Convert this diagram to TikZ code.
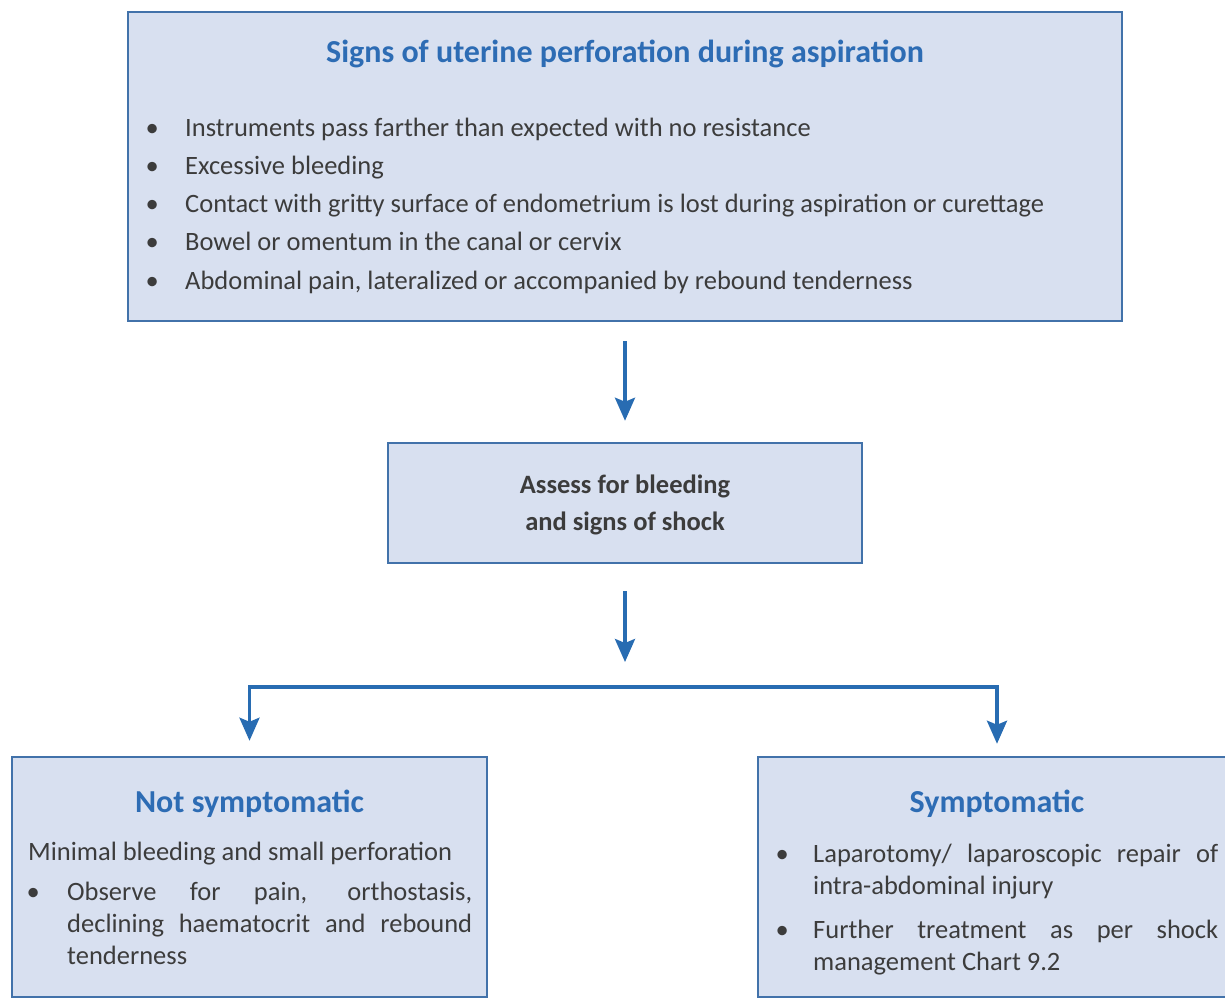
\documentclass[tikz,border=0pt]{standalone}
\usepackage{fontspec}
\setmainfont{Carlito}
\usetikzlibrary{arrows.meta}

\definecolor{boxfill}{RGB}{216,224,240}
\definecolor{boxline}{RGB}{66,114,170}
\definecolor{flowblue}{RGB}{40,108,178}
\definecolor{headblue}{RGB}{45,108,180}
\definecolor{bodygray}{RGB}{60,60,60}

\newlength{\bulind}
\newcommand{\bitem}[2]{\par\hangindent=\bulind\hangafter=0\noindent\llap{\makebox[#1][c]{\textbullet}}#2}

\begin{document}
\begin{tikzpicture}[x=1pt, y=-1pt,
    box/.style={draw=boxline, line width=2.5pt, fill=boxfill, inner sep=0pt},
    heading/.style={font=\fontsize{32}{38}\selectfont\bfseries, text=headblue,
        anchor=base, inner sep=0pt},
    body/.style={font=\fontsize{26.5}{32}\selectfont, text=bodygray,
        anchor=base west, inner sep=0pt},
    flow/.style={draw=flowblue, line width=3.5pt,
        -{Stealth[length=23pt, width=20pt, inset=4pt]}}
]
    \clip (0,0) rectangle (1225,999);
    \fill[white] (0,0) rectangle (1225,999);

    \node[box, minimum width=994pt, minimum height=309pt] (signs) at (625,166.5) {};
    \node[heading] (signstitle) at (625,62) {Signs of uterine perforation during aspiration};
    \node[body] (signslist) at (140,136) {\begin{minipage}[t]{960pt}
        \fontsize{26.5}{38.3}\selectfont\setlength{\bulind}{45pt}
        \bitem{66pt}{Instruments pass farther than expected with no resistance}
        \bitem{66pt}{Excessive bleeding}
        \bitem{66pt}{Contact with gritty surface of endometrium is lost during aspiration or curettage}
        \bitem{66pt}{Bowel or omentum in the canal or cervix}
        \bitem{66pt}{Abdominal pain, lateralized or accompanied by rebound tenderness}
    \end{minipage}};

    \node[box, minimum width=474pt, minimum height=120pt] (assess) at (625,503) {};
    \node[body, anchor=base, align=center, font=\fontsize{26.5}{37}\selectfont\bfseries]
        (assesstext) at (625,530) {Assess for bleeding\\and signs of shock};

    \node[box, minimum width=475pt, minimum height=240pt] (nosym) at (249.5,877) {};
    \node[heading] (nosymtitle) at (249.5,812) {Not symptomatic};
    \node[body] (nosymtext) at (28,860) {\begin{minipage}[t]{444pt}
        \setlength{\bulind}{39pt}
        \noindent Minimal bleeding and small perforation\par\vspace{8pt}
        \bitem{68pt}{Observe for pain, orthostasis,\linebreak declining haematocrit and rebound\linebreak tenderness}
    \end{minipage}};

    \node[box, minimum width=478pt, minimum height=240pt] (sym) at (997,877) {};
    \node[heading] (symtitle) at (997,812) {Symptomatic};
    \node[body] (symtext) at (775,862) {\begin{minipage}[t]{443pt}
        \setlength{\bulind}{38pt}
        \bitem{62pt}{Laparotomy/ laparoscopic repair of\linebreak intra-abdominal injury}\par\vspace{12pt}
        \bitem{62pt}{Further treatment as per shock\linebreak management Chart 9.2}
    \end{minipage}};

    \coordinate (split) at (625,687);
    \draw[flow, shorten <=19pt, shorten >=21pt] (signs) -- (assess);
    \draw[flow, shorten <=27pt, shorten >=25pt] (assess) -- (split);
    \draw[flow, shorten >=15pt] (split) -| (nosym);
    \draw[flow, shorten >=12pt] (split) -| (sym);
\end{tikzpicture}
\end{document}
